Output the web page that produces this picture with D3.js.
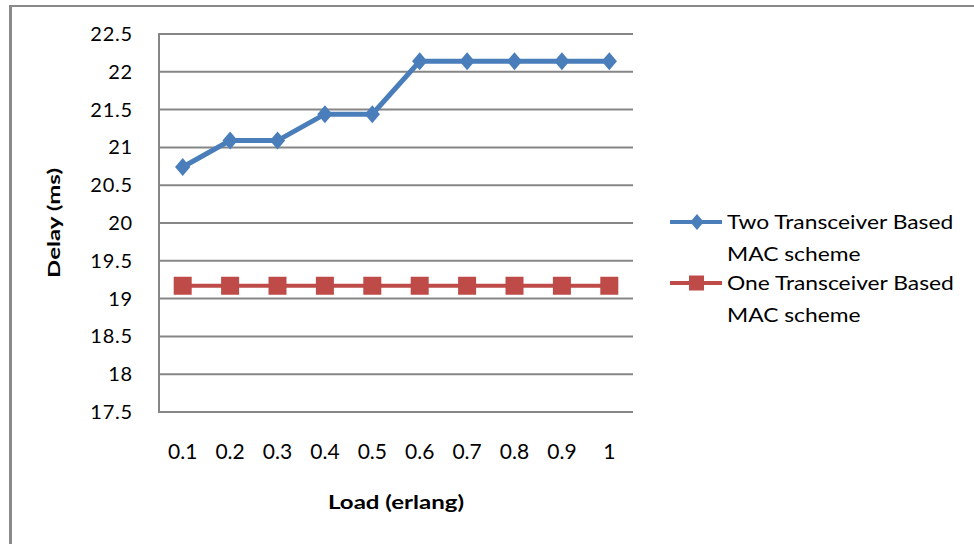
<!DOCTYPE html>
<html>
<head>
<meta charset="utf-8">
<script src="https://cdn.jsdelivr.net/npm/d3@7"></script>
<style>
  html, body { margin: 0; padding: 0; background: #fff; }
  svg { display: block; }
  text { font-family: Lato, "Open Sans", sans-serif; fill: #000; }
</style>
</head>
<body>
<svg id="chart" width="974" height="544"></svg>
<script>
const categories = ["0.1", "0.2", "0.3", "0.4", "0.5", "0.6", "0.7", "0.8", "0.9", "1"];
const twoTransceiver = [20.74, 21.09, 21.09, 21.44, 21.44, 22.14, 22.14, 22.14, 22.14, 22.14];
const oneTransceiver = [19.17, 19.17, 19.17, 19.17, 19.17, 19.17, 19.17, 19.17, 19.17, 19.17];
const yTicks = [17.5, 18, 18.5, 19, 19.5, 20, 20.5, 21, 21.5, 22, 22.5];
const seriesNames = [["Two Transceiver Based", "MAC scheme"], ["One Transceiver Based", "MAC scheme"]];
const xTitle = "Load (erlang)";
const yTitle = "Delay (ms)";

const svg = d3.select("#chart");
const plot = { left: 159, right: 633, top: 34, bottom: 412 };
const blue = "#4a7ebb", red = "#be4b48", grid = "#868686";

// outer frame (top and left edges visible)
svg.append("line").attr("x1", 10.5).attr("x2", 974).attr("y1", 6).attr("y2", 6)
  .attr("stroke", "#8a8a8a").attr("stroke-width", 2);
svg.append("line").attr("x1", 10.5).attr("x2", 10.5).attr("y1", 5).attr("y2", 544)
  .attr("stroke", "#8a8a8a").attr("stroke-width", 3);

const x = d3.scaleBand().domain(categories).range([plot.left, plot.right]);
const y = d3.scaleLinear().domain([17.5, 22.5]).range([plot.bottom, plot.top]);
const cx = d => x(d) + x.bandwidth() / 2;

// gridlines
svg.append("g").selectAll("line").data(yTicks).join("line")
  .attr("x1", plot.left).attr("x2", plot.right)
  .attr("y1", d => y(d)).attr("y2", d => y(d))
  .attr("stroke", grid).attr("stroke-width", 2);
// left axis line
svg.append("line").attr("x1", plot.left).attr("x2", plot.left)
  .attr("y1", plot.top - 1).attr("y2", plot.bottom + 1)
  .attr("stroke", grid).attr("stroke-width", 2);

// y axis labels
const yAxis = d3.axisLeft(y).tickValues(yTicks).tickSize(0).tickPadding(26)
  .tickFormat(d => String(d));
const yg = svg.append("g").attr("transform", `translate(${plot.left},0)`).call(yAxis);
yg.select(".domain").remove();
yg.selectAll("text").attr("font-size", 20).style("font-family", "Lato, sans-serif")
  .style("letter-spacing", "0.8px").attr("fill", "#000");

// x axis labels
const xAxis = d3.axisBottom(x).tickSize(0).tickPadding(32);
const xg = svg.append("g").attr("transform", `translate(0,${plot.bottom})`).call(xAxis);
xg.select(".domain").remove();
xg.selectAll("text").attr("font-size", 21).style("font-family", "Lato, sans-serif").attr("fill", "#000");

// axis titles
svg.append("text").attr("x", (plot.left + plot.right) / 2).attr("y", 509)
  .attr("text-anchor", "middle").attr("font-size", 19).attr("font-weight", "bold")
  .attr("textLength", 136).attr("lengthAdjust", "spacingAndGlyphs").text(xTitle);
svg.append("text").attr("transform", `translate(60,${(plot.top + plot.bottom) / 2}) rotate(-90)`)
  .attr("text-anchor", "middle").attr("font-size", 17).attr("font-weight", "bold")
  .attr("textLength", 110).attr("lengthAdjust", "spacingAndGlyphs").text(yTitle);

const line = d3.line().x((d, i) => cx(categories[i])).y(d => y(d));

// red series
svg.append("path").datum(oneTransceiver).attr("d", line)
  .attr("fill", "none").attr("stroke", red).attr("stroke-width", 4);
svg.append("g").selectAll("rect").data(oneTransceiver).join("rect")
  .attr("x", (d, i) => cx(categories[i]) - 9).attr("y", d => y(d) - 9)
  .attr("width", 18).attr("height", 18).attr("fill", red);

// blue series
svg.append("path").datum(twoTransceiver).attr("d", line)
  .attr("fill", "none").attr("stroke", blue).attr("stroke-width", 5);
const diamond = (px, py, s) => `M${px},${py - s}L${px + s * 0.85},${py}L${px},${py + s}L${px - s * 0.85},${py}Z`;
svg.append("g").selectAll("path").data(twoTransceiver).join("path")
  .attr("d", (d, i) => diamond(cx(categories[i]), y(d), 9)).attr("fill", blue);

// legend
const lg = svg.append("g");
const legendRows = [{ y: 222, color: blue, type: "diamond" }, { y: 283, color: red, type: "square" }];
legendRows.forEach((r, k) => {
  lg.append("line").attr("x1", 670).attr("x2", 722).attr("y1", r.y).attr("y2", r.y)
    .attr("stroke", r.color).attr("stroke-width", 4);
  if (r.type === "diamond") {
    lg.append("path").attr("d", diamond(697, r.y, 8)).attr("fill", r.color);
  } else {
    lg.append("rect").attr("x", 689).attr("y", r.y - 7.5).attr("width", 15).attr("height", 15).attr("fill", r.color);
  }
  seriesNames[k].forEach((t, j) => {
    const el = lg.append("text").attr("x", 727).attr("y", r.y + j * 32).attr("dy", "0.35em")
      .attr("font-size", 19).attr("fill", "#000").text(t);
    const natural = el.node().getComputedTextLength();
    el.attr("textLength", natural * 1.2).attr("lengthAdjust", "spacingAndGlyphs");
  });
});
</script>
</body>
</html>
